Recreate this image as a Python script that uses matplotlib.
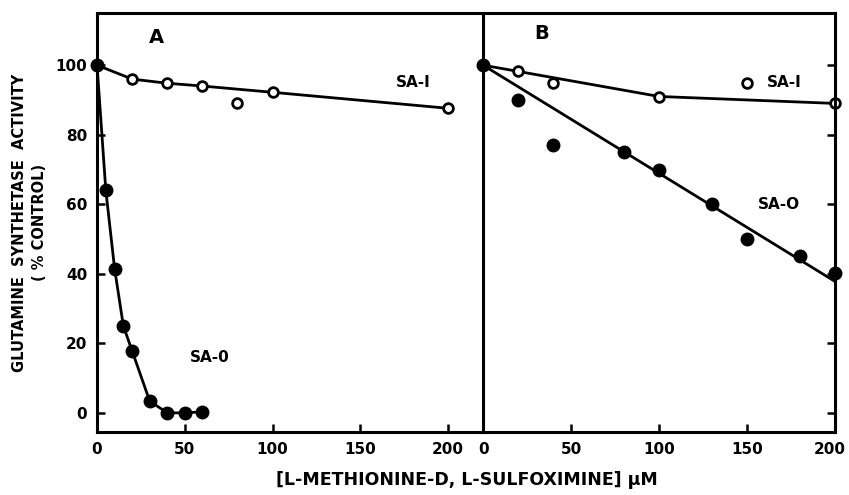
import matplotlib
matplotlib.use("Agg")
import matplotlib.pyplot as plt
import matplotlib.transforms as mtransforms

# panel A data
a_sa1_x = [0, 20, 40, 60, 80, 100, 200]
a_sa1_y = [100, 96, 94.8, 94, 89, 92.2, 87.6]
a_sa1_line_x = [0, 20, 40, 60, 100, 200]
a_sa1_line_y = [100, 96, 94.8, 94, 92.2, 87.6]
a_sa0_x = [0, 5, 10, 15, 20, 30, 40, 50, 60]
a_sa0_y = [100, 64, 41.5, 25, 17.8, 3.4, 0, 0, 0.3]

# panel B data
b_sa1_x = [0, 20, 40, 100, 150, 200]
b_sa1_y = [100, 98.4, 94.8, 90.8, 95, 89]
b_sa1_line_x = [0, 100, 200]
b_sa1_line_y = [100, 91, 89]
b_sa0_x = [0, 20, 40, 80, 100, 130, 150, 180, 200]
b_sa0_y = [100, 90, 77, 75, 69.8, 60, 50, 45, 40.3]
b_sa0_line_x = [0, 200]
b_sa0_line_y = [100, 37.8]

yticks = [0, 20, 40, 60, 80, 100]
xticks = [0, 50, 100, 150, 200]

plt.rcParams["font.family"] = "DejaVu Sans"
plt.rcParams["font.weight"] = "bold"

fig = plt.figure(figsize=(8.49, 4.95), dpi=100)
axA = fig.add_axes([0.1143, 0.1273, 0.4547, 0.8464])
axB = fig.add_axes([0.569, 0.1273, 0.4145, 0.8464])

ylim = (-5.5, 115)


def style(ax):
    for s in ax.spines.values():
        s.set_linewidth(2.2)
    ax.set_ylim(*ylim)
    ax.set_xticks(xticks)
    ax.tick_params(direction="in", length=6, width=1.8, labelsize=11, pad=7)
    for lab in ax.get_xticklabels() + ax.get_yticklabels():
        lab.set_fontweight("bold")


open_kw = dict(marker="o", markersize=7, markerfacecolor="white",
               markeredgecolor="black", markeredgewidth=2, linestyle="none", zorder=4)
fill_kw = dict(marker="o", markersize=9, color="black", linestyle="none", zorder=4)

# panel A
axA.plot(a_sa1_line_x, a_sa1_line_y, color="black", lw=2)
axA.plot(a_sa1_x, a_sa1_y, **open_kw)
axA.plot(a_sa0_x, a_sa0_y, color="black", lw=2)
axA.plot(a_sa0_x, a_sa0_y, **fill_kw)
axA.set_xlim(0, 220)
axA.set_yticks(yticks)
style(axA)
axA.spines["right"].set_visible(False)
axA.text(34, 108, "A", fontsize=14, fontweight="bold", ha="center", va="center")
axA.text(180, 95, "SA-I", fontsize=11, fontweight="bold", ha="center", va="center")
axA.text(64, 16, "SA-0", fontsize=11, fontweight="bold", ha="center", va="center")

# panel B
axB.plot(b_sa1_line_x, b_sa1_line_y, color="black", lw=2)
axB.plot(b_sa1_x, b_sa1_y, **open_kw)
axB.plot(b_sa0_line_x, b_sa0_line_y, color="black", lw=2)
axB.plot(b_sa0_x, b_sa0_y, **fill_kw)
axB.set_xlim(0, 200)
style(axB)
axB.yaxis.tick_right()
axB.set_yticks(yticks)
axB.tick_params(axis="y", labelright=False, labelleft=False, left=False)
axB.text(33, 109, "B", fontsize=14, fontweight="bold", ha="center", va="center")
axB.text(171, 95, "SA-I", fontsize=11, fontweight="bold", ha="center", va="center")
axB.text(168, 60, "SA-O", fontsize=11, fontweight="bold", ha="center", va="center")

# keep the last tick label of B inside the figure
last = axB.get_xticklabels()[-1]
last.set_transform(last.get_transform() +
                   mtransforms.ScaledTranslation(-4 / 72, 0, fig.dpi_scale_trans))

for ax in (axA, axB):
    for s in ax.spines.values():
        s.set_zorder(5)
    for ln in ax.lines:
        ln.set_clip_on(False)

fig.text(0.023, 0.55, "GLUTAMINE  SYNTHETASE  ACTIVITY", rotation=90,
         ha="center", va="center", fontsize=10.5, fontweight="bold")
fig.text(0.047, 0.55, "( % CONTROL)", rotation=90,
         ha="center", va="center", fontsize=10.5, fontweight="bold")
fig.text(0.55, 0.03, "[L-METHIONINE-D, L-SULFOXIMINE] \u03bcM",
         ha="center", va="center", fontsize=12.5, fontweight="bold")

fig.savefig("out.png", dpi=100)
